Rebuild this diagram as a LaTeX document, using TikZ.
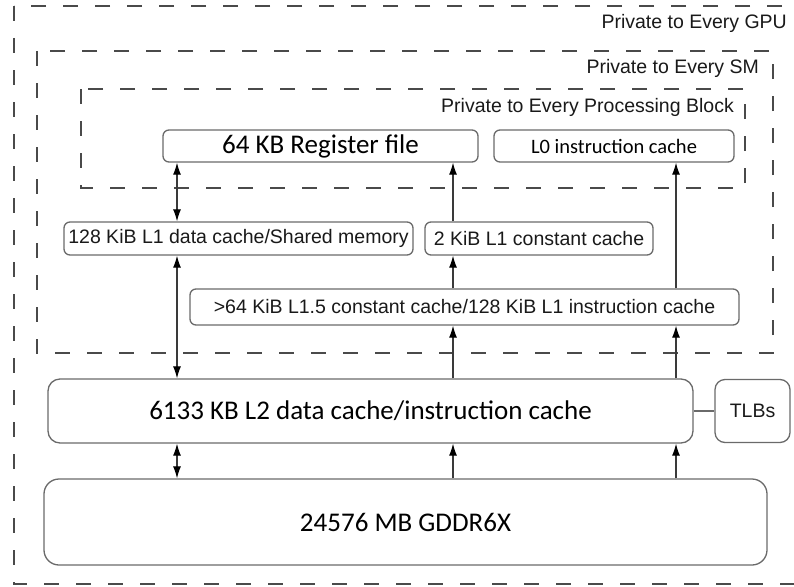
\documentclass[tikz,border=0pt]{standalone}
\usepackage{fontspec}
\setmainfont{Liberation Sans}
\newfontfamily\calfont{Carlito}
\usetikzlibrary{arrows.meta,calc}
\definecolor{boxline}{HTML}{6A6A6A}
\definecolor{dashline}{HTML}{4A4A4A}
\definecolor{arrowline}{HTML}{3A3A3A}
\tikzset{
  region/.style={draw=dashline, line width=1.6pt, dash pattern=on 15pt off 17pt},
  regionlabel/.style={anchor=east, inner sep=0pt, font=\fontsize{19.5}{22}\selectfont, text=black!90},
  cachebox/.style={draw=boxline, line width=1.3pt, rounded corners=6pt, inner sep=0pt, font=\fontsize{19.5}{22}\selectfont, text=black!90},
  bigbox/.style={cachebox, rounded corners=14pt, font=\calfont\fontsize{27}{30}\selectfont, text=black},
  link/.style={draw=arrowline, line width=1.2pt},
  tip/.tip={Latex[length=12pt,width=8pt,color=black]},
  up/.style={link, -tip},
  both/.style={link, tip-tip}
}
\begin{document}
\begin{tikzpicture}[x=1pt,y=-1pt]
\useasboundingbox (0,0) rectangle (794,586);
\clip (0,0) rectangle (794,586);

% nested visibility regions
\draw[region] (14,6) rectangle (812,584);
\draw[region] (37,51) rectangle (773,353);
\draw[region] (81,89) rectangle (745,188);
\node[regionlabel] (gpulbl) at (787,23) {Private to Every GPU};
\node[regionlabel] (smlbl) at (759,68) {Private to Every SM};
\node[regionlabel] (pblbl) at (734,107) {Private to Every Processing Block};

% memory hierarchy
\node[cachebox, minimum width=315pt, minimum height=32pt, font=\calfont\fontsize{27}{30}\selectfont, text=black] (reg) at (320.5,146) {64 KB Register file};
\node[cachebox, minimum width=240pt, minimum height=32pt, font=\calfont\fontsize{20.5}{24}\selectfont, text=black] (l0) at (614,146) {L0 instruction cache};
\node[cachebox, minimum width=349pt, minimum height=33pt] (l1d) at (238.5,238.5) {128 KiB L1 data cache/Shared memory};
\node[cachebox, minimum width=228pt, minimum height=33pt] (l1c) at (539,238.5) {2 KiB L1 constant cache};
\node[cachebox, minimum width=549pt, minimum height=36pt] (l15) at (464.5,307) {>64 KiB L1.5 constant cache/128 KiB L1 instruction cache};
\node[bigbox, minimum width=645pt, minimum height=64pt, rounded corners=12pt] (l2) at (370.5,411) {6133 KB L2 data cache/instruction cache};
\node[cachebox, minimum width=75pt, minimum height=63pt, rounded corners=10pt] (tlb) at (752.5,411) {TLBs};
\node[bigbox, minimum width=723pt, minimum height=86pt, rounded corners=15pt] (gddr) at (405.5,522) {24576 MB GDDR6X};

% connector columns
\coordinate (ca) at (177,0);
\coordinate (cb) at (453,0);
\coordinate (cc) at (676,0);

\draw[both] (l1d.north -| ca) -- (reg.south -| ca);
\draw[both] (l1d.south -| ca) -- (l2.north -| ca);
\draw[both] (l2.south -| ca) -- (gddr.north -| ca);

\draw[up] (l1c.north -| cb) -- (reg.south -| cb);
\draw[up] (l15.north -| cb) -- (l1c.south -| cb);
\draw[up] (l2.north -| cb) -- (l15.south -| cb);
\draw[up] (gddr.north -| cb) -- (l2.south -| cb);

\draw[up] (l15.north -| cc) -- (l0.south -| cc);
\draw[up] (l2.north -| cc) -- (l15.south -| cc);
\draw[up] (gddr.north -| cc) -- (l2.south -| cc);

\draw[draw=boxline, line width=1.3pt] (l2.east) -- (tlb.west);
\end{tikzpicture}
\end{document}
